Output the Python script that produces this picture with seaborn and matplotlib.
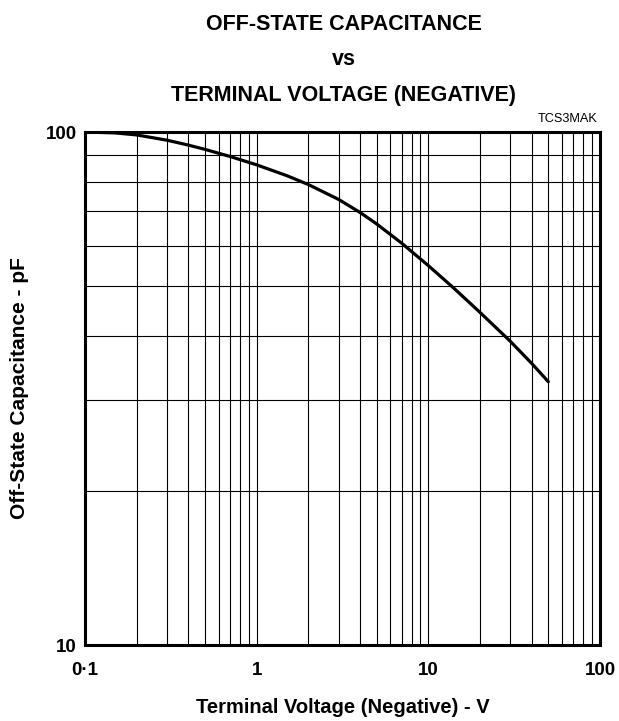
import numpy as np
import pandas as pd
import seaborn as sns
import matplotlib as mpl
import matplotlib.ticker
import matplotlib.pyplot as plt

sns.set_style("white")
mpl.rcParams["font.family"] = ["Liberation Sans", "DejaVu Sans"]
mpl.rcParams["text.color"] = "black"
mpl.rcParams["axes.labelcolor"] = "black"
mpl.rcParams["xtick.color"] = "black"
mpl.rcParams["ytick.color"] = "black"

# values
voltage = [0.1, 0.15, 0.2, 0.3, 0.4, 0.5, 0.7, 1, 1.5, 2, 3, 4, 5, 7, 10, 14, 20, 30, 40, 50]
capacitance = [100, 99.6, 98.7, 96.4, 94.3, 92.5, 89.6, 86.3, 82.2, 79.0, 73.9,
               69.7, 66.2, 60.7, 54.9, 49.7, 44.5, 39.1, 35.4, 32.6]

x_ticks = [0.1, 1, 10, 100]
x_tick_labels = ["0\u00b71", "1", "10", "100"]
y_ticks = [10, 100]
y_tick_labels = ["10", "100"]

df = pd.DataFrame({"V": voltage, "C": capacitance})

fig = plt.figure(figsize=(6.19, 7.21), dpi=100)
ax = fig.add_axes([0.1373, 0.1054, 0.832, 0.7115])

sns.lineplot(ax=ax, data=df, x="V", y="C", color="black", linewidth=2.3, zorder=5)

ax.set_xscale("log")
ax.set_yscale("log")
ax.set_xlim(0.1, 100)
ax.set_ylim(10, 100)

ax.xaxis.set_major_locator(mpl.ticker.FixedLocator(x_ticks))
ax.xaxis.set_major_formatter(mpl.ticker.FixedFormatter(x_tick_labels))
ax.xaxis.set_minor_locator(mpl.ticker.LogLocator(base=10, subs=np.arange(2, 10)))
ax.xaxis.set_minor_formatter(mpl.ticker.NullFormatter())
ax.yaxis.set_major_locator(mpl.ticker.FixedLocator(y_ticks))
ax.yaxis.set_major_formatter(mpl.ticker.FixedFormatter(y_tick_labels))
ax.yaxis.set_minor_locator(mpl.ticker.LogLocator(base=10, subs=np.arange(2, 10)))
ax.yaxis.set_minor_formatter(mpl.ticker.NullFormatter())

ax.grid(True, which="both", color="black", linewidth=0.8)
ax.tick_params(which="both", length=0, labelsize=13.5)
ax.tick_params(axis="x", pad=12)
ax.tick_params(axis="y", pad=6)
for lbl in ax.get_xticklabels() + ax.get_yticklabels():
    lbl.set_fontweight("bold")
for s in ax.spines.values():
    s.set_linewidth(2.2)
    s.set_color("black")
    s.set_zorder(6)

ax.set_xlabel("Terminal Voltage (Negative) - V", fontsize=14.5, fontweight="bold", labelpad=14)
ax.set_ylabel("Off-State Capacitance - pF", fontsize=15, fontweight="bold", labelpad=12)

fig.text(0.555, 0.966, "OFF-STATE CAPACITANCE", ha="center", va="center",
         fontsize=15.5, fontweight="bold")
fig.text(0.555, 0.918, "vs", ha="center", va="center", fontsize=15.5, fontweight="bold")
fig.text(0.555, 0.868, "TERMINAL VOLTAGE (NEGATIVE)", ha="center", va="center",
         fontsize=15.5, fontweight="bold")
fig.text(0.966, 0.835, "TCS3MAK", ha="right", va="center", fontsize=9.2)

plt.savefig("out.png", dpi=100)
